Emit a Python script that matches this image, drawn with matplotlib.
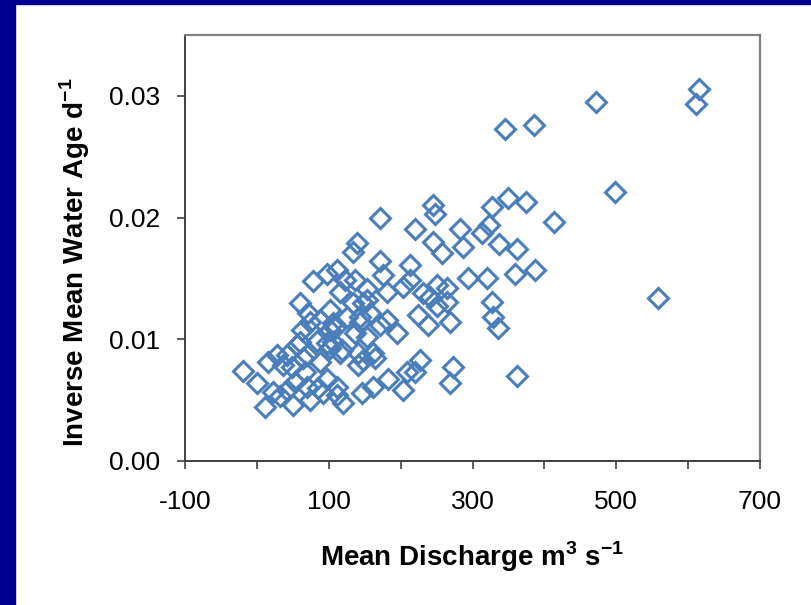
import matplotlib
matplotlib.use("Agg")
import matplotlib.pyplot as plt
from matplotlib.patches import Rectangle
from matplotlib.ticker import FormatStrFormatter

plt.rcParams['font.family'] = ['Liberation Sans', 'DejaVu Sans']
plt.rcParams['mathtext.fontset'] = 'custom'
plt.rcParams['mathtext.rm'] = 'Liberation Sans'
plt.rcParams['mathtext.bf'] = 'Liberation Sans:bold'

# mean discharge (m3 s-1) and inverse mean water age (d-1)
discharge = [
    615, 611, 472, 345, 385, 498, 413, 558, 362, 349, 374, 327, 282, 313,
    323, 287, 337, 362, 294, 320, 359, 387, 327, 328, 335, 273, 269,
    171, 245, 248, 220, 139, 245, 257, 171, 213, 111, 97, 78, 136, 175,
    213, 250, 264, 60, 116, 153, 181, 241, 264, 134, 123, 203,
    71, 74, 88, 63, 60, 102, 109, 125, 134, 148, 143, 136, 153, 84, 106,
    231, 224, 238, 250, 153, 157, 181, 171, 195, 161, 148, 227, 209, 182,
    203, 161, 269,
    -19, 0, 15, 11, 22, 32, 42, 49, 53, 56, 64, 67, 70, 50, 74, 88, 92,
    97, 102, 106, 102, 116, 111, 120, 143, 164, 146, 220, 28, 36, 42, 70,
    85, 97, 118, 111, 141, 141,
]
inv_age = [
    0.0306, 0.0293, 0.0295, 0.0273, 0.0276, 0.0221, 0.0196, 0.0134, 0.0070,
    0.0216, 0.0213, 0.0209, 0.0191, 0.0187, 0.0194, 0.0176, 0.0178, 0.0174,
    0.0150, 0.0150, 0.0154, 0.0157, 0.0131, 0.0118, 0.0109, 0.0077, 0.0064,
    0.0200, 0.0210, 0.0203, 0.0191, 0.0179, 0.0180, 0.0171, 0.0164, 0.0161,
    0.0157, 0.0154, 0.0148, 0.0149, 0.0153, 0.0149, 0.0145, 0.0142, 0.0130,
    0.0139, 0.0141, 0.0139, 0.0135, 0.0131, 0.0172, 0.0149, 0.0143,
    0.0122, 0.0114, 0.0116, 0.0108, 0.0098, 0.0124, 0.0109, 0.0118, 0.0130,
    0.0130, 0.0114, 0.0105, 0.0102, 0.0099, 0.0098,
    0.0138, 0.0120, 0.0112, 0.0127, 0.0132, 0.0122, 0.0116, 0.0112, 0.0105,
    0.0089, 0.0083, 0.0083, 0.0073, 0.0067, 0.0058, 0.0061, 0.0114,
    0.0074, 0.0064, 0.0081, 0.0044, 0.0057, 0.0053, 0.0087, 0.0077, 0.0065,
    0.0095, 0.0085, 0.0073, 0.0061, 0.0046, 0.0050, 0.0081, 0.0056, 0.0067,
    0.0108, 0.0113, 0.0093, 0.0089, 0.0061, 0.0048, 0.0118, 0.0085, 0.0056,
    0.0073, 0.0087, 0.0079, 0.0058, 0.0087, 0.0060, 0.0097, 0.0091, 0.0054,
    0.0079, 0.0089,
]

x_ticks = [-100, 0, 100, 200, 300, 400, 500, 600, 700]
x_labels = ['-100', '', '100', '', '300', '', '500', '', '700']
y_ticks = [0.0, 0.01, 0.02, 0.03]

fig = plt.figure(figsize=(8.11, 6.05), dpi=100)

# navy slide frame on the left and top
fig.patches.append(Rectangle((0, 0), 15 / 811, 1, transform=fig.transFigure,
                             color='#00008f', zorder=-1))
fig.patches.append(Rectangle((0, 1 - 4 / 605), 1, 4 / 605, transform=fig.transFigure,
                             color='#00008f', zorder=-1))

ax = fig.add_axes([185 / 811, 144 / 605, 575 / 811, 426 / 605])
ax.plot(discharge, inv_age, linestyle='none', marker='D', markersize=10.5,
        markerfacecolor='none', markeredgecolor='#4a7ebb', markeredgewidth=2.2,
        clip_on=False)

ax.set_xlim(-100, 700)
ax.set_ylim(0, 0.035)
ax.set_xticks(x_ticks)
ax.set_xticklabels(x_labels)
ax.set_yticks(y_ticks)
ax.yaxis.set_major_formatter(FormatStrFormatter('%.2f'))

ax.tick_params(axis='both', direction='out', length=6, width=1.2,
               color='#404040', labelsize=19)
ax.tick_params(axis='x', pad=15)
ax.tick_params(axis='y', pad=12)

for side in ['left', 'bottom']:
    ax.spines[side].set_color('#404040')
    ax.spines[side].set_linewidth(1.4)
for side in ['top', 'right']:
    ax.spines[side].set_color('#808080')
    ax.spines[side].set_linewidth(1.6)

ax.set_xlabel(r'Mean Discharge m$^{\mathbf{3}}$ s$^{\mathbf{-1}}$',
              fontsize=20, fontweight='bold', va='center')
ax.set_ylabel(r'Inverse Mean Water Age d$^{\mathbf{-1}}$',
              fontsize=20, fontweight='bold', va='center')
ax.xaxis.set_label_coords(0.5, -0.225)
ax.yaxis.set_label_coords(-0.191, 0.467)

fig.savefig('out.png', dpi=100)
